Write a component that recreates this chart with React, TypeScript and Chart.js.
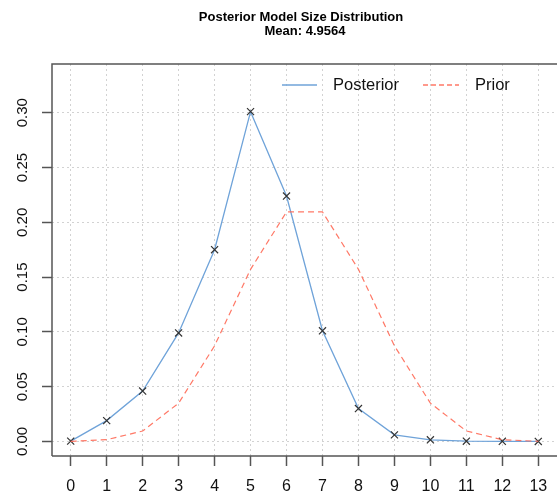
import React, { useEffect, useRef } from "react";
import { Chart, registerables } from "chart.js";

Chart.register(...registerables);

const modelSizes = [0, 1, 2, 3, 4, 5, 6, 7, 8, 9, 10, 11, 12, 13];
const posterior = [0.0003, 0.019, 0.046, 0.099, 0.175, 0.301, 0.224, 0.101, 0.030, 0.006, 0.0015, 0.0002, 0.0001, 0.0000];
const prior = [0.0001, 0.0016, 0.0095, 0.0349, 0.0873, 0.1571, 0.2095, 0.2095, 0.1571, 0.0873, 0.0349, 0.0095, 0.0016, 0.0001];
const yTickValues = [0, 0.05, 0.1, 0.15, 0.2, 0.25, 0.3];
const yTickLabels = ["0.00", "0.05", "0.10", "0.15", "0.20", "0.25", "0.30"];
const xTickLabels = ["0", "1", "2", "3", "4", "5", "6", "7", "8", "9", "10", "11", "12", "13"];
const titleLines = ["Posterior Model Size Distribution", "Mean: 4.9564"];
const seriesNames = ["Posterior", "Prior"];

const POST_COLOR = "#6fa3d9";
const PRIOR_COLOR = "rgba(255,105,85,0.9)";
const AXIS_COLOR = "#555555";
const GRID_COLOR = "#d2d2d2";
const FONT = "'Liberation Sans', Arial, sans-serif";

const decorPlugin = {
  id: "decor",
  afterDraw(chart: any) {
    const { ctx, chartArea, scales } = chart;
    const xs = scales.x;
    const ys = scales.y;
    ctx.save();
    // box (left, top, bottom)
    ctx.strokeStyle = AXIS_COLOR;
    ctx.lineWidth = 1.5;
    ctx.setLineDash([]);
    ctx.beginPath();
    ctx.moveTo(chartArea.left, chartArea.bottom);
    ctx.lineTo(chartArea.left, chartArea.top);
    ctx.lineTo(chartArea.right + 2, chartArea.top);
    ctx.moveTo(chartArea.left, chartArea.bottom);
    ctx.lineTo(chartArea.right + 2, chartArea.bottom);
    ctx.stroke();

    // x tick labels
    ctx.fillStyle = "#111";
    ctx.font = `16px ${FONT}`;
    ctx.textAlign = "center";
    ctx.textBaseline = "middle";
    modelSizes.forEach((v, i) => {
      ctx.fillText(xTickLabels[i], xs.getPixelForValue(v), 487);
    });

    // y tick labels rotated
    ctx.font = `15px ${FONT}`;
    yTickValues.forEach((v, i) => {
      const y = ys.getPixelForValue(v);
      ctx.save();
      ctx.translate(22.5, y);
      ctx.rotate(-Math.PI / 2);
      ctx.textAlign = "center";
      ctx.textBaseline = "middle";
      ctx.fillText(yTickLabels[i], 0, 0);
      ctx.restore();
    });

    // title
    ctx.font = `bold 13px ${FONT}`;
    ctx.textAlign = "center";
    ctx.textBaseline = "middle";
    ctx.fillStyle = "#000";
    ctx.fillText(titleLines[0], 301, 17);
    ctx.fillText(titleLines[1], 305, 31);

    // legend
    const ly = 85;
    ctx.lineWidth = 1.3;
    ctx.strokeStyle = POST_COLOR;
    ctx.setLineDash([]);
    ctx.beginPath();
    ctx.moveTo(282, ly);
    ctx.lineTo(317, ly);
    ctx.stroke();
    ctx.strokeStyle = PRIOR_COLOR;
    ctx.setLineDash([5, 3]);
    ctx.beginPath();
    ctx.moveTo(423, ly);
    ctx.lineTo(459, ly);
    ctx.stroke();
    ctx.setLineDash([]);
    ctx.fillStyle = "#111";
    ctx.font = `16.5px ${FONT}`;
    ctx.textAlign = "left";
    ctx.fillText(seriesNames[0], 333, ly);
    ctx.fillText(seriesNames[1], 475, ly);
    ctx.restore();
  },
};

export default function App() {
  const ref = useRef<HTMLCanvasElement | null>(null);
  useEffect(() => {
    if (!ref.current) return;
    const gridCommon = {
      color: GRID_COLOR,
      lineWidth: 1,
      drawTicks: true,
      tickLength: 10,
      tickColor: AXIS_COLOR,
      tickWidth: 1.5,
      tickBorderDash: [],
    };
    const chart = new Chart(ref.current, {
      type: "line",
      data: {
        datasets: [
          {
            label: seriesNames[1],
            data: modelSizes.map((x, i) => ({ x, y: prior[i] })),
            borderColor: PRIOR_COLOR,
            borderWidth: 1.2,
            borderDash: [6, 4],
            pointRadius: 0,
            tension: 0,
            fill: false,
          },
          {
            label: seriesNames[0],
            data: modelSizes.map((x, i) => ({ x, y: posterior[i] })),
            borderColor: POST_COLOR,
            borderWidth: 1.3,
            pointStyle: "crossRot",
            pointRadius: 5,
            pointBorderColor: "#333",
            pointBorderWidth: 1.2,
            pointBackgroundColor: "#333",
            tension: 0,
            fill: false,
          },
        ],
      },
      options: {
        animation: false,
        responsive: true,
        maintainAspectRatio: false,
        layout: { autoPadding: false, padding: { top: 64, left: 0, right: 0, bottom: 0 } },
        plugins: {
          legend: { display: false },
          title: { display: false },
          tooltip: { enabled: false },
        },
        scales: {
          x: {
            type: "linear",
            min: -0.52,
            max: 13.52,
            afterBuildTicks: (s: any) => {
              s.ticks = modelSizes.map((v) => ({ value: v }));
            },
            afterFit: (s: any) => {
              s.height = 41;
            },
            ticks: { display: false },
            grid: gridCommon,
            border: { display: false, dash: [2, 3] },
          },
          y: {
            type: "linear",
            min: -0.0133,
            max: 0.3445,
            afterBuildTicks: (s: any) => {
              s.ticks = yTickValues.map((v) => ({ value: v }));
            },
            afterFit: (s: any) => {
              s.width = 52;
            },
            ticks: { display: false },
            grid: gridCommon,
            border: { display: false, dash: [2, 3] },
          },
        },
      },
      plugins: [decorPlugin],
    } as any);
    return () => chart.destroy();
  }, []);
  return (
    <div style={{ position: "fixed", left: 0, top: 0, width: 557, height: 497, background: "#fff" }}>
      <canvas ref={ref} />
    </div>
  );
}
